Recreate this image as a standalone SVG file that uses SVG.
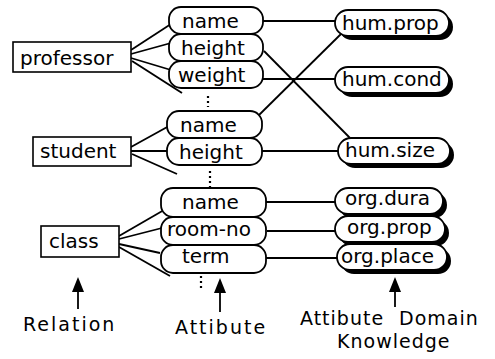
<svg xmlns="http://www.w3.org/2000/svg" width="495" height="359" viewBox="0 0 495 359">
<style>
text{font-family:"DejaVu Sans",Verdana,sans-serif;font-size:20px;fill:#000}
.lbl{font-size:19px;letter-spacing:2px}
.box{fill:#fff;stroke:#000;stroke-width:1.6}
.attr{fill:#fff;stroke:#000;stroke-width:1.8}
.dom{fill:#fff;stroke:#000;stroke-width:1.8}
.sh{fill:#000}
.c line{stroke:#000;stroke-width:1.8}
.head{fill:#000}
.dots{stroke:#000;stroke-width:2.2;stroke-dasharray:2 3}
</style>
<rect width="495" height="359" fill="#fff"/>

<g class="c" id="connectors">
<line x1="131" y1="50" x2="171" y2="24"/>
<line x1="131" y1="54" x2="171" y2="43"/>
<line x1="131" y1="58" x2="171" y2="70"/>
<line x1="132" y1="61" x2="182" y2="93"/>
<line x1="131" y1="147" x2="169" y2="126"/>
<line x1="131" y1="151" x2="168" y2="151"/>
<line x1="132" y1="154" x2="177" y2="174"/>
<line x1="119" y1="236" x2="164" y2="210"/>
<line x1="119" y1="239" x2="162" y2="228"/>
<line x1="119" y1="244" x2="160" y2="253"/>
<line x1="119" y1="247" x2="170" y2="276"/>
<line x1="263" y1="21" x2="336" y2="21"/>
<line x1="264" y1="51" x2="350" y2="138"/>
<line x1="263" y1="79" x2="336" y2="79"/>
<line x1="258" y1="116" x2="342" y2="33"/>
<line x1="262" y1="151" x2="339" y2="151"/>
<line x1="265" y1="202" x2="336" y2="202"/>
<line x1="267" y1="231" x2="336" y2="231"/>
<line x1="265" y1="258" x2="338" y2="258"/>
<line x1="78" y1="309" x2="78" y2="288"/>
<polygon class="head" points="78,277 72,292 84,292"/>
<line x1="220" y1="312" x2="220" y2="290"/>
<polygon class="head" points="220,278 214,293 226,293"/>
<line x1="395" y1="307" x2="395" y2="288"/>
<polygon class="head" points="395,277 389,292 401,292"/>
</g>

<g id="professor"><rect class="box" x="13" y="42" width="118" height="30"/><text x="20" y="65">professor</text></g>
<g id="student"><rect class="box" x="33" y="137" width="98" height="29"/><text x="40" y="158">student</text></g>
<g id="class"><rect class="box" x="41" y="226" width="78" height="31"/><text x="49" y="248">class</text></g>

<g id="prof-name"><rect class="attr" x="169" y="7" width="94" height="27" rx="12"/><text x="182" y="28">name</text></g>
<g id="prof-height"><rect class="attr" x="169" y="34" width="94" height="27" rx="12"/><text x="181" y="55">height</text></g>
<g id="prof-weight"><rect class="attr" x="169" y="61" width="94" height="27" rx="12"/><text x="178" y="82">weight</text></g>
<line class="dots" x1="208" y1="96" x2="208" y2="107"/>

<g id="stud-name"><rect class="attr" x="167" y="111" width="95" height="27" rx="12"/><text x="180" y="132">name</text></g>
<g id="stud-height"><rect class="attr" x="167" y="138" width="95" height="27" rx="12"/><text x="179" y="159">height</text></g>
<line class="dots" x1="210" y1="171" x2="210" y2="188"/>

<g id="class-name"><rect class="attr" x="161" y="188" width="105" height="29" rx="12"/><text x="182" y="209">name</text></g>
<g id="class-roomno"><rect class="attr" x="161" y="217" width="105" height="28" rx="12"/><text x="167" y="236">room-no</text></g>
<g id="class-term"><rect class="attr" x="161" y="245" width="105" height="28" rx="12"/><text x="182" y="263">term</text></g>
<line class="dots" x1="201" y1="276" x2="201" y2="291"/>

<g id="hum-prop"><rect class="sh" x="339" y="14" width="114" height="26" rx="13"/><rect class="dom" x="335" y="10" width="114" height="26" rx="13"/><text x="342" y="30">hum.prop</text></g>
<g id="hum-cond"><rect class="sh" x="339" y="71" width="114" height="26" rx="13"/><rect class="dom" x="335" y="67" width="114" height="26" rx="13"/><text x="342" y="86">hum.cond</text></g>
<g id="hum-size"><rect class="sh" x="342" y="142" width="112" height="26" rx="13"/><rect class="dom" x="338" y="138" width="112" height="26" rx="13"/><text x="345" y="157">hum.size</text></g>
<g id="org-dura"><rect class="sh" x="339" y="192" width="108" height="26" rx="13"/><rect class="dom" x="335" y="188" width="108" height="26" rx="13"/><text x="345" y="205">org.dura</text></g>
<g id="org-prop"><rect class="sh" x="339" y="220" width="110" height="26" rx="13"/><rect class="dom" x="335" y="216" width="110" height="26" rx="13"/><text x="347" y="234">org.prop</text></g>
<g id="org-place"><rect class="sh" x="341" y="248" width="110" height="26" rx="13"/><rect class="dom" x="337" y="244" width="110" height="26" rx="13"/><text x="341" y="263">org.place</text></g>

<g id="labels">
<text class="lbl" x="23" y="331">Relation</text>
<text class="lbl" x="175" y="334">Attibute</text>
<text class="lbl" x="300" y="325" style="letter-spacing:1px">Attibute</text>
<text class="lbl" x="399" y="325" style="letter-spacing:1px">Domain</text>
<text class="lbl" x="337" y="348" style="letter-spacing:1px">Knowledge</text>
</g>
</svg>
